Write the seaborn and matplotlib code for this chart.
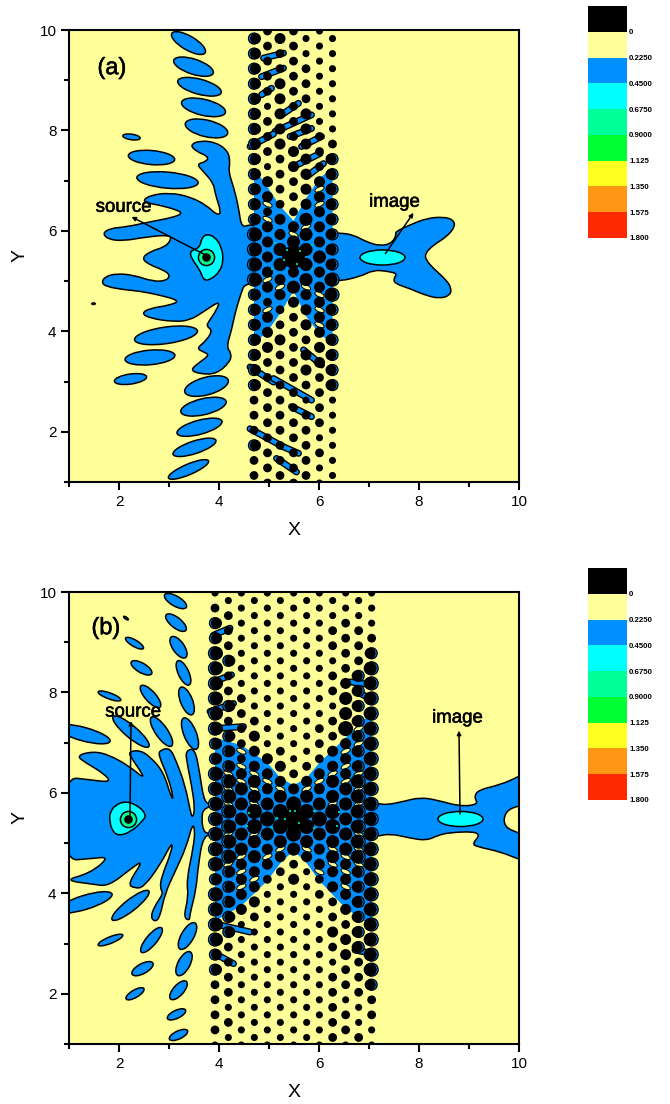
import numpy as np
import pandas as pd
import matplotlib

matplotlib.use("Agg")
import matplotlib.pyplot as plt
import matplotlib.patheffects as pe
import seaborn as sns
from matplotlib.colors import ListedColormap
from matplotlib.patches import Ellipse, PathPatch
from matplotlib.path import Path

# colour levels of the contour map
level_labels = ["0", "0.2250", "0.4500", "0.6750", "0.9000", "1.125", "1.350", "1.575", "1.800"]
level_colors = ["#000000", "#FFFF99", "#008FFF", "#00FFFF", "#00FF99",
                "#00FF33", "#FFFF22", "#FF9614", "#FF2A00"]
YELLOW, BLUE, CYAN, GREEN = "#FFFF99", "#008FFF", "#00FFFF", "#00FF99"

# rows of the crystal lattice, shared by both panels
row_y = [9.98, 9.83, 9.68, 9.53, 9.38, 9.23, 9.08, 8.93, 8.78, 8.63, 8.48, 8.33, 8.18, 8.03, 7.88, 7.73,
         7.58, 7.43, 7.28, 7.13, 6.98, 6.83, 6.68, 6.53, 6.38, 6.23, 6.08, 5.93, 5.78, 5.63, 5.48, 5.33,
         5.18, 5.03, 4.88, 4.73, 4.58, 4.43, 4.28, 4.13, 3.98, 3.83, 3.68, 3.53, 3.38, 3.23, 3.08, 2.93,
         2.78, 2.63, 2.48, 2.33, 2.18, 2.03, 1.88, 1.73, 1.58, 1.43, 1.28, 1.13, 0.98]

# panel (a) lattice: one size code per dot, one string per row
a_even_cols = [4.97, 5.49, 6.01]
a_odd_cols = [4.70, 5.22, 5.74, 6.27]
a_dots = ["221", "3311", "221", "3211", "221", "3221", "221", "3321", "221", "3321", "121", "3331",
          "221", "3331", "222", "3332", "232", "3233", "132", "3233", "323", "3233", "323", "3233",
          "223", "3343", "333", "4343", "343", "4443", "364", "4443", "333", "4344", "343", "3334",
          "233", "3233", "323", "3233", "323", "3323", "323", "3233", "223", "3233", "222", "3223",
          "222", "2211", "222", "2221", "222", "2221", "221", "3221", "222", "2221", "221", "2221", "221"]

# panel (b) lattice
b_even_cols = [3.92, 4.447, 4.967, 5.493, 6.007, 6.533, 7.053]
b_odd_cols = [4.187, 4.707, 5.227, 5.753, 6.273, 6.793]
b_dots = ["1111111", "111111", "2111111", "211111", "3111121", "211122", "3111122", "211122",
          "4111123", "311112", "4111124", "211123", "4111134", "211123", "4211144", "311113",
          "4211144", "221123", "4211254", "331123", "3211234", "332133", "3231234", "333233",
          "4332334", "443344", "4433344", "444444", "4445444", "455554", "4456544", "455554",
          "4445444", "444444", "4434344", "443344", "4332334", "332133", "3323234", "331133",
          "4311234", "331123", "4311134", "321123", "4111124", "311133", "4111134", "211123",
          "3111134", "211112", "3111124", "211122", "2111123", "211122", "2111112", "111121",
          "2111122", "211121", "2111121", "111122", "1111111"]

# contour lobes: centre x, centre y, length, thickness, tilt
a_lobes = [(3.39, 9.74, .77, .28, -30), (3.49, 9.27, .83, .30, -18), (3.61, 8.87, .90, .30, -15),
           (3.69, 8.46, .90, .32, -13), (3.75, 8.04, .87, .33, -13), (2.25, 7.87, .35, .11, -8),
           (2.65, 7.46, .93, .28, -5), (2.97, 7.01, 1.23, .32, -5), (2.23, 3.05, .65, .20, 8),
           (2.62, 3.48, 1.00, .29, 5), (2.94, 3.92, 1.27, .33, 8), (3.75, 2.91, .90, .35, 15),
           (3.69, 2.50, .93, .32, 13), (3.61, 2.09, .93, .28, 15), (3.51, 1.69, .90, .25, 18),
           (3.39, 1.25, .87, .21, 23), (1.49, 4.55, .07, .03, 0)]
b_lobes = [(3.13, 9.82, .50, .20, -30), (3.14, 9.39, .50, .21, -38), (3.19, 8.90, .50, .23, -55),
           (3.29, 8.39, .53, .21, -65), (3.35, 7.83, .59, .24, -68), (3.42, 7.18, .67, .25, -68),
           (2.63, 7.92, .57, .21, -48), (2.45, 8.49, .47, .19, -30), (2.31, 8.98, .41, .13, -30),
           (2.14, 9.48, .11, .04, -35), (1.81, 7.93, .48, .12, -20), (2.85, 7.22, .70, .24, -55),
           (2.24, 7.22, .93, .24, -40), (1.29, 7.17, 1.10, .27, -15), (1.32, 3.82, 1.13, .28, 17),
           (2.23, 3.76, .93, .23, 38), (1.83, 3.07, .53, .13, 22), (2.65, 3.07, .63, .21, 50),
           (2.47, 2.50, .47, .20, 28), (2.32, 2.00, .41, .15, 30), (3.37, 3.15, .60, .25, 60),
           (3.30, 2.60, .53, .24, 62), (3.19, 2.07, .47, .21, 48), (3.15, 1.59, .40, .16, 25),
           (3.19, 1.18, .40, .16, 25)]

# contour outlines
a_body = [(3.42, 7.71), (3.62, 7.80), (3.95, 7.76), (4.19, 7.58), (4.22, 7.34), (4.19, 7.18), (4.29, 6.88),
          (4.39, 6.48), (4.45, 6.05), (4.65, 6.15), (5.0, 5.95), (5.0, 5.0), (4.52, 4.95), (4.45, 4.79),
          (4.32, 4.36), (4.25, 4.02), (4.15, 3.69), (4.25, 3.56), (4.22, 3.39), (3.95, 3.15), (3.62, 3.15),
          (3.42, 3.23), (3.62, 3.39), (3.81, 3.53), (3.69, 3.59), (3.55, 3.66), (3.75, 3.82), (3.87, 4.02),
          (3.75, 4.10), (3.79, 4.19), (3.95, 4.42), (4.02, 4.61), (3.69, 4.39), (3.42, 4.22), (3.09, 4.19),
          (2.62, 4.26), (2.45, 4.36), (2.62, 4.46), (3.02, 4.52), (3.22, 4.61), (2.82, 4.72), (2.42, 4.80),
          (2.09, 4.83), (1.75, 4.89), (1.65, 4.97), (1.72, 5.09), (1.95, 5.15), (2.29, 5.12), (2.69, 4.99),
          (2.95, 5.01), (3.02, 5.12), (2.89, 5.22), (2.62, 5.32), (2.45, 5.45), (2.62, 5.59), (2.92, 5.68),
          (3.04, 5.82), (3.02, 5.92), (2.55, 5.88), (2.09, 5.80), (1.79, 5.83), (1.67, 5.95), (1.82, 6.05),
          (2.15, 6.08), (2.62, 6.18), (3.09, 6.27), (3.27, 6.35), (3.15, 6.42), (2.82, 6.51), (2.45, 6.58),
          (2.62, 6.71), (3.02, 6.76), (3.42, 6.68), (3.75, 6.51), (3.95, 6.32), (4.05, 6.35), (3.92, 6.75),
          (3.89, 6.95), (3.69, 7.18), (3.55, 7.33), (3.75, 7.38), (3.79, 7.48), (3.55, 7.58)]
a_source_zone = [(3.62, 5.68), (3.65, 5.85), (3.75, 5.94), (3.92, 5.88), (4.05, 5.68), (4.09, 5.42), (4.02, 5.19),
                 (3.82, 5.02), (3.69, 5.02), (3.62, 5.22), (3.45, 5.45), (3.42, 5.58), (3.49, 5.62)]
a_image_body = [(6.0, 5.96), (6.42, 5.96), (6.69, 5.92), (6.95, 5.78), (7.22, 5.70), (7.45, 5.75), (7.55, 5.92),
                (7.52, 5.98), (7.82, 6.12), (8.15, 6.25), (8.49, 6.28), (8.69, 6.22), (8.72, 6.08), (8.55, 5.88),
                (8.29, 5.72), (8.12, 5.55), (8.14, 5.42), (8.29, 5.25), (8.55, 5.02), (8.65, 4.85), (8.62, 4.72),
                (8.42, 4.65), (8.12, 4.72), (7.82, 4.85), (7.52, 4.95), (7.49, 5.05), (7.57, 5.15), (7.35, 5.20),
                (7.09, 5.22), (6.82, 5.09), (6.42, 5.00), (6.0, 5.0)]
a_web = [(4.70, 7.25), (4.95, 6.9), (5.22, 6.5), (5.49, 6.2), (5.74, 6.65), (6.01, 7.05), (6.27, 7.25),
         (6.27, 3.75), (6.01, 3.95), (5.74, 4.3), (5.49, 4.8), (5.22, 4.35), (4.97, 4.0), (4.70, 3.75)]
b_body = [(0.9, 6.32), (1.42, 6.26), (1.85, 6.21), (1.69, 6.39), (1.35, 6.59), (1.14, 6.74), (1.49, 6.83),
          (1.82, 6.75), (2.22, 6.52), (2.51, 6.28), (2.42, 6.45), (2.25, 6.69), (2.19, 6.82), (2.42, 6.85),
          (2.62, 6.72), (2.89, 6.42), (3.05, 5.89), (3.09, 5.89), (2.99, 6.29), (2.79, 6.75), (2.82, 6.85),
          (3.02, 6.90), (3.15, 6.62), (3.32, 6.16), (3.43, 5.62), (3.47, 5.49), (3.52, 5.69), (3.45, 6.16),
          (3.35, 6.65), (3.34, 6.84), (3.52, 6.89), (3.62, 6.36), (3.69, 5.89), (3.79, 5.76), (3.95, 5.76),
          (3.69, 5.69), (3.65, 5.49), (3.69, 5.23), (3.79, 5.19), (3.95, 5.19), (3.69, 5.16), (3.59, 4.60),
          (3.54, 4.06), (3.42, 3.60), (3.41, 3.45), (3.29, 3.53), (3.39, 3.93), (3.35, 4.26), (3.49, 4.93),
          (3.52, 5.26), (3.47, 5.39), (3.35, 4.93), (3.12, 4.43), (2.92, 4.00), (2.82, 3.53), (2.72, 3.43),
          (2.63, 3.53), (2.72, 3.76), (2.89, 4.00), (2.82, 4.10), (2.85, 4.33), (3.05, 4.83), (3.07, 5.04),
          (2.82, 4.56), (2.49, 4.12), (2.32, 4.10), (2.17, 4.18), (2.49, 4.66), (2.25, 4.50), (1.79, 4.14),
          (1.49, 4.18), (0.9, 4.26), (1.42, 4.40), (1.82, 4.73), (1.42, 4.69), (0.9, 4.65)]
b_source_zone = [(1.81, 5.49), (1.85, 5.26), (1.99, 5.14), (2.25, 5.23), (2.49, 5.46), (2.54, 5.56), (2.42, 5.72),
                 (2.15, 5.84), (1.92, 5.76), (1.82, 5.60)]
b_image_body = [(6.5, 5.79), (7.19, 5.79), (7.35, 5.76), (7.69, 5.83), (8.02, 5.91), (8.35, 5.86), (8.82, 5.73),
                (9.19, 5.77), (9.10, 5.92), (9.19, 6.06), (9.62, 6.16), (9.99, 6.32), (10.1, 6.4), (10.1, 5.73),
                (9.99, 5.75), (9.72, 5.63), (9.69, 5.33), (9.99, 5.20), (10.1, 5.16), (10.1, 4.66), (9.99, 4.68),
                (9.62, 4.83), (9.15, 4.93), (9.07, 4.99), (9.22, 5.16), (9.09, 5.23), (8.62, 5.21), (8.39, 5.16),
                (8.15, 5.05), (7.82, 5.10), (7.42, 5.19), (7.15, 5.13), (6.5, 5.13)]
b_web = [(3.92, 7.1), (4.447, 6.95), (4.967, 6.6), (5.227, 6.3), (5.493, 6.15), (5.753, 6.3), (6.007, 6.6),
         (6.533, 7.1), (7.053, 7.6), (7.053, 3.35), (6.533, 3.7), (6.007, 4.25), (5.753, 4.6), (5.493, 4.85),
         (5.227, 4.6), (4.967, 4.25), (4.447, 3.75), (3.92, 3.45)]

# bridges of the 0.2250 contour between neighbouring dots
a_links = [((4.89, 9.44), (5.29, 9.54)), ((4.85, 9.07), (5.29, 9.24)), ((4.85, 8.71), (5.05, 8.84)),
           ((5.25, 8.31), (5.59, 8.54)), ((5.12, 7.98), (5.85, 8.31)), ((4.62, 7.68), (5.09, 7.93)),
           ((5.42, 7.88), (5.85, 8.04)), ((5.65, 7.68), (6.05, 7.88)), ((5.49, 7.28), (6.02, 7.54)),
           ((5.75, 7.08), (6.09, 7.34)), ((4.62, 3.29), (5.09, 2.99)), ((5.09, 3.06), (5.85, 2.63)),
           ((5.45, 2.50), (5.85, 2.30)), ((4.62, 2.06), (5.29, 1.70)), ((5.22, 1.73), (5.59, 1.57)),
           ((5.15, 1.47), (5.55, 1.20)), ((5.69, 3.63), (6.05, 3.33))]
b_links = [((3.89, 8.21), (4.25, 8.35)), ((3.89, 9.14), (4.22, 9.28)), ((3.82, 7.62), (4.29, 7.78)),
           ((3.89, 7.28), (4.49, 7.32)), ((6.62, 8.21), (7.09, 8.15)), ((6.75, 8.02), (7.02, 7.88)),
           ((3.89, 3.40), (4.62, 3.23)), ((3.92, 2.80), (4.29, 2.60)), ((6.72, 2.87), (7.09, 2.80))]

# yellow gaps left inside the blue web, on the empty lattice sites
a_gaps = [(6.01, 6.83), (6.01, 6.53), (4.97, 6.53), (5.49, 5.93), (5.74, 6.08), (4.97, 6.23), (4.97, 5.03),
          (5.22, 4.88), (5.74, 4.88), (6.01, 4.73), (6.01, 4.13), (6.01, 4.43), (4.97, 4.43)]
b_gaps = [(4.447, 6.53), (4.447, 6.23), (4.967, 6.23), (4.187, 6.38), (4.707, 6.38), (4.187, 6.08), (4.707, 6.08),
          (4.187, 5.78), (4.707, 5.78), (5.227, 6.08), (5.753, 6.08), (6.007, 6.23), (6.533, 6.53), (6.533, 6.23),
          (6.273, 6.38), (6.793, 6.38), (6.793, 6.08), (6.273, 5.78), (6.793, 5.78), (6.793, 6.98), (6.793, 7.28),
          (6.533, 6.83), (4.447, 6.83), (4.187, 4.58), (4.447, 4.73), (4.447, 4.13), (4.187, 5.18),
          (4.707, 5.18), (5.227, 4.88), (5.753, 4.88), (6.273, 4.58), (6.533, 4.43), (6.793, 4.58),
          (6.533, 4.73), (6.793, 4.88), (6.273, 4.88), (6.007, 4.43), (4.967, 4.73), (4.447, 4.43),
          (6.793, 5.18), (6.533, 4.13), (4.707, 4.28)]

# teal specks in the focus
a_specks = [(5.35, 5.62), (5.62, 5.60), (5.30, 5.42), (5.55, 5.35), (5.12, 5.75), (5.85, 5.72), (5.85, 5.25), (5.05, 5.25)]
b_specks = [(5.42, 5.63), (5.52, 5.63), (5.32, 5.49), (5.89, 5.63), (5.15, 5.50), (5.60, 5.40), (4.60, 5.60),
            (4.55, 5.35), (6.40, 5.62), (6.35, 5.35), (5.90, 5.30), (5.05, 5.30)]

dot_areas = {1: 26, 2: 40, 3: 63, 4: 88, 5: 117, 6: 274}


def smooth_patch(ax, points, color, zorder=2):
    # closed quadratic spline through the midpoints of the outline
    pts = np.array(points, dtype=float)
    mids = (pts + np.roll(pts, -1, axis=0)) / 2
    verts = [mids[-1]]
    codes = [Path.MOVETO]
    for p, m in zip(pts, mids):
        verts += [p, m]
        codes += [Path.CURVE3, Path.CURVE3]
    ax.add_patch(PathPatch(Path(verts, codes), fc=color, ec="black", lw=1.1, zorder=zorder))


def lattice_frame(rows, even_cols, odd_cols):
    records = []
    for k, codes in enumerate(rows):
        cols = even_cols if k % 2 == 0 else odd_cols
        for x, code in zip(cols, codes):
            records.append({"x": x, "y": row_y[k], "size": int(code)})
    return pd.DataFrame(records)


def draw_dots(ax, dots, rim_from):
    # large dots in the outer columns carry a thin blue crescent on the outer side
    rim = dots[(dots["size"] >= 3) & (abs(dots["x"] - 5.49) >= rim_from)]
    sns.scatterplot(data=rim, x="x", y="y", size="size", sizes=dot_areas, color=BLUE, edgecolor="black",
                    linewidth=0.9, legend=False, zorder=5, ax=ax)
    sns.scatterplot(data=rim.assign(x=rim["x"] + np.sign(5.49 - rim["x"]) * 0.03), x="x", y="y", size="size",
                    sizes=dot_areas, color="black", linewidth=0, legend=False, zorder=6, ax=ax)
    plain = dots.drop(rim.index)
    sns.scatterplot(data=plain, x="x", y="y", size="size", sizes=dot_areas, color="black", linewidth=0,
                    legend=False, zorder=6, ax=ax)


def draw_source(ax, x, y):
    sns.scatterplot(x=[x], y=[y], s=135, color=GREEN, edgecolor="black", linewidth=1.1, legend=False, zorder=7, ax=ax)
    sns.scatterplot(x=[x], y=[y], s=38, color="black", linewidth=0, legend=False, zorder=7, ax=ax)


def draw_panel(ax, lobes, body, web, source_zone, image_body, links, gaps, specks, dots,
               source_xy, image_xy, rim_from):
    ax.set_facecolor(YELLOW)
    for cx, cy, w, h, tilt in lobes:
        ax.add_patch(Ellipse((cx, cy), w, h, angle=tilt, fc=BLUE, ec="black", lw=1.1, zorder=2))
    smooth_patch(ax, body, BLUE)
    smooth_patch(ax, image_body, BLUE)
    web_x, web_y = zip(*web)
    ax.fill(web_x, web_y, color=BLUE, lw=0, zorder=2)
    smooth_patch(ax, source_zone, CYAN, zorder=3)
    ax.add_patch(Ellipse(image_xy, 0.90, 0.30, fc=CYAN, ec="black", lw=1.1, zorder=3))

    for (x0, y0), (x1, y1) in links:
        ax.plot([x0, x1], [y0, y1], color="black", lw=5, solid_capstyle="round", zorder=3)
        ax.plot([x0, x1], [y0, y1], color=BLUE, lw=3, solid_capstyle="round", zorder=3)

    for x, y in gaps:
        tilt = 25 if (x - 5.49) * (y - 5.48) > 0 else -25
        ax.add_patch(Ellipse((x, y), 0.2, 0.09, angle=tilt, fc=YELLOW, ec="black", lw=0.7, zorder=4))

    draw_dots(ax, dots, rim_from)
    speck_x, speck_y = zip(*specks)
    sns.scatterplot(x=speck_x, y=speck_y, marker="s", s=3, color="#00C8A0", linewidth=0, legend=False, zorder=7, ax=ax)
    draw_source(ax, *source_xy)

    ax.set_xlim(1, 10)
    ax.set_ylim(1, 10)
    ax.set_xticks([2, 4, 6, 8, 10])
    ax.set_yticks([2, 4, 6, 8, 10])
    ax.set_xticks([1, 3, 5, 7, 9], minor=True)
    ax.set_yticks([1, 3, 5, 7, 9], minor=True)
    ax.tick_params(which="major", length=6, width=1.5, labelsize=11, pad=3)
    ax.tick_params(which="minor", length=3.5, width=1.5)
    ax.set_xlabel("X", fontsize=14, labelpad=10)
    ax.set_ylabel("Y", fontsize=14, labelpad=8)
    for spine in ax.spines.values():
        spine.set_visible(True)
        spine.set_linewidth(1.5)
        spine.set_zorder(10)


def draw_levels(cax):
    table = np.arange(len(level_colors)).reshape(-1, 1)
    sns.heatmap(table, cmap=ListedColormap(level_colors), cbar=False, xticklabels=False, yticklabels=False, ax=cax)
    cax.yaxis.tick_right()
    cax.set_yticks(np.arange(1, len(level_labels) + 1))
    cax.set_yticklabels(level_labels, fontsize=5.7, fontweight="bold")
    cax.tick_params(axis="y", length=0, pad=1.5, rotation=0)


sns.set_style("ticks")
plt.rcParams["font.family"] = ["Liberation Sans", "DejaVu Sans"]
for key in ["text.color", "axes.labelcolor", "xtick.color", "ytick.color", "axes.edgecolor"]:
    plt.rcParams[key] = "black"

W, H = 670, 1104
fig = plt.figure(figsize=(W / 100, H / 100), dpi=100)
ax_a = fig.add_axes([69 / W, 1 - 482 / H, 450 / W, 452 / H])
ax_b = fig.add_axes([69 / W, 1 - 1044 / H, 450 / W, 452 / H])
cax_a = fig.add_axes([588 / W, 1 - 238 / H, 39 / W, 232 / H])
cax_b = fig.add_axes([588 / W, 1 - 800 / H, 39 / W, 232 / H])

draw_panel(ax_a, a_lobes, a_body, a_web, a_source_zone, a_image_body, a_links, a_gaps, a_specks,
           lattice_frame(a_dots, a_even_cols, a_odd_cols), (3.73, 5.48), (7.27, 5.47), 0.7)
draw_panel(ax_b, b_lobes, b_body, b_web, b_source_zone, b_image_body, b_links, b_gaps, b_specks,
           lattice_frame(b_dots, b_even_cols, b_odd_cols), (2.18, 5.49), (8.83, 5.48), 1.2)
draw_levels(cax_a)
draw_levels(cax_b)

# panel labels and arrows
heavy = [pe.withStroke(linewidth=0.4, foreground="black")]
note = dict(fontsize=13.4, ha="center", va="center", zorder=12, path_effects=heavy)
arrow = dict(arrowstyle="-|>", color="black", lw=1.1, mutation_scale=6, shrinkA=0, shrinkB=0)
ax_a.text(1.86, 9.24, "(a)", fontsize=17, ha="center", va="center", zorder=12, path_effects=heavy)
ax_a.text(2.09, 6.47, "source", **note)
ax_a.text(7.51, 6.57, "image", **note)
ax_a.annotate("", xy=(2.25, 6.28), xytext=(3.73, 5.52), arrowprops=arrow, zorder=12)
ax_a.annotate("", xy=(7.89, 6.36), xytext=(7.33, 5.55), arrowprops=arrow, zorder=12)

ax_b.text(1.74, 9.28, "(b)", fontsize=17, ha="center", va="center", zorder=12, path_effects=heavy)
ax_b.text(2.28, 7.61, "source", **note)
ax_b.text(8.77, 7.49, "image", **note)
ax_b.annotate("", xy=(2.24, 7.43), xytext=(2.22, 5.55), arrowprops=arrow, zorder=12)
ax_b.annotate("", xy=(8.80, 7.24), xytext=(8.82, 5.58), arrowprops=arrow, zorder=12)

fig.savefig("out.png", dpi=100)
